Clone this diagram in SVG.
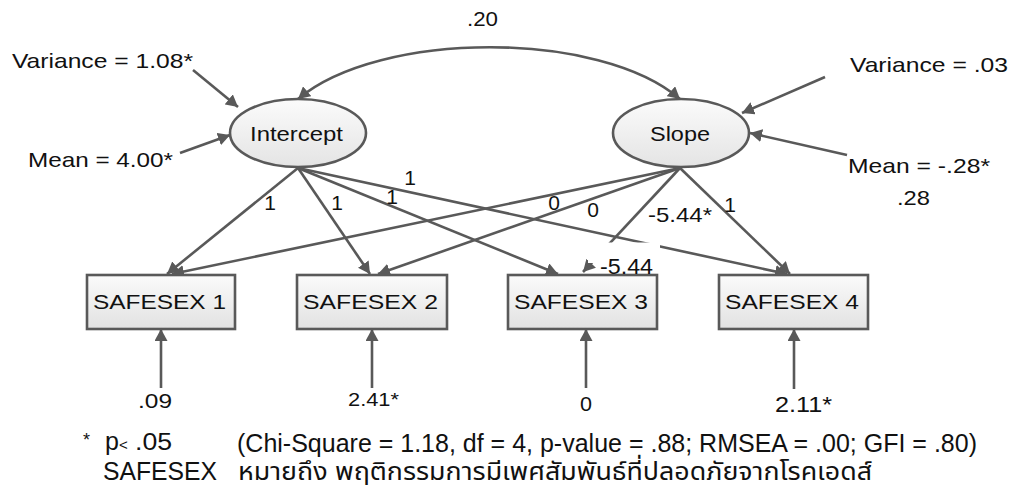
<svg xmlns="http://www.w3.org/2000/svg" width="1013" height="490" viewBox="0 0 1013 490">
<defs>
<linearGradient id="gE" x1="0" y1="0" x2="0" y2="1"><stop offset="0" stop-color="#fbfbfb"/><stop offset="1" stop-color="#e4e4e4"/></linearGradient>
<linearGradient id="gB" x1="0" y1="0" x2="0" y2="1"><stop offset="0" stop-color="#fbfbfb"/><stop offset="1" stop-color="#e2e2e2"/></linearGradient>
<marker id="ah" viewBox="0 0 12 13" refX="12" refY="6.5" markerWidth="12" markerHeight="13" markerUnits="userSpaceOnUse" orient="auto-start-reverse"><path d="M0,0 L12,6.5 L0,13 z" fill="#595959"/></marker>
<style>
.ln{stroke:#595959;stroke-width:2.6;fill:none;marker-end:url(#ah)}
.sh{stroke:#595959;stroke-width:2.6}
text{font-family:"Liberation Sans",Arial,sans-serif;fill:#111}
.t21{font-size:21px}
.mid{text-anchor:middle}
.ft{font-size:25px}
</style>
</defs>
<rect width="1013" height="490" fill="#fff"/>
<g id="connectors">
<path class="ln" d="M298,99 C380,30 600,30 680,99" marker-start="url(#ah)"/>
<line class="ln" x1="298" y1="168" x2="167" y2="274"/>
<line class="ln" x1="298" y1="168" x2="370" y2="274"/>
<line class="ln" x1="298" y1="168" x2="558" y2="274"/>
<line class="ln" x1="298" y1="168" x2="787" y2="274"/>
<line class="ln" x1="680" y1="168" x2="172" y2="274"/>
<line class="ln" x1="680" y1="168" x2="378" y2="274"/>
<line class="ln" x1="680" y1="168" x2="583" y2="272"/>
<line class="ln" x1="680" y1="168" x2="790" y2="274"/>
<line class="ln" x1="193" y1="70" x2="238" y2="107"/>
<line class="ln" x1="180" y1="153" x2="230" y2="135"/>
<line class="ln" x1="825" y1="77" x2="742" y2="113"/>
<line class="ln" x1="847" y1="155" x2="750" y2="133"/>
<line class="ln" x1="161" y1="388" x2="161" y2="329"/>
<line class="ln" x1="372" y1="388" x2="372" y2="329"/>
<line class="ln" x1="586" y1="388" x2="586" y2="329"/>
<line class="ln" x1="794" y1="389" x2="794" y2="329"/>
<rect x="588" y="242.5" width="72" height="20.5" fill="#fff"/>
</g>
<g id="intercept">
<ellipse class="sh" cx="298" cy="133" rx="68" ry="34" fill="url(#gE)"/>
<text class="t21" x="250" y="141" textLength="93" lengthAdjust="spacingAndGlyphs">Intercept</text>
</g>
<g id="slope">
<ellipse class="sh" cx="681" cy="133" rx="68" ry="34" fill="url(#gE)"/>
<text class="t21" x="650" y="141" textLength="60" lengthAdjust="spacingAndGlyphs">Slope</text>
</g>
<g id="safesex1">
<rect class="sh" x="87" y="275" width="148" height="54" fill="url(#gB)"/>
<text class="t21" x="93" y="309" textLength="133" lengthAdjust="spacingAndGlyphs">SAFESEX 1</text>
</g>
<g id="safesex2">
<rect class="sh" x="297" y="275" width="150" height="54" fill="url(#gB)"/>
<text class="t21" x="303" y="309" textLength="135" lengthAdjust="spacingAndGlyphs">SAFESEX 2</text>
</g>
<g id="safesex3">
<rect class="sh" x="508" y="275" width="149" height="54" fill="url(#gB)"/>
<text class="t21" x="514" y="309" textLength="134" lengthAdjust="spacingAndGlyphs">SAFESEX 3</text>
</g>
<g id="safesex4">
<rect class="sh" x="719" y="275" width="149" height="54" fill="url(#gB)"/>
<text class="t21" x="725" y="309" textLength="134" lengthAdjust="spacingAndGlyphs">SAFESEX 4</text>
</g>
<g id="labels">
<text class="t21" x="467" y="26" textLength="31" lengthAdjust="spacingAndGlyphs">.20</text>
<text class="t21" x="12" y="68" textLength="181" lengthAdjust="spacingAndGlyphs">Variance = 1.08*</text>
<text class="t21" x="28" y="167" textLength="145" lengthAdjust="spacingAndGlyphs">Mean = 4.00*</text>
<text class="t21" x="850" y="72" textLength="158" lengthAdjust="spacingAndGlyphs">Variance = .03</text>
<text class="t21" x="848" y="173" textLength="142" lengthAdjust="spacingAndGlyphs">Mean = -.28*</text>
<text class="t21" x="897" y="205" textLength="33" lengthAdjust="spacingAndGlyphs">.28</text>
<text class="t21 mid" x="270" y="210">1</text>
<text class="t21 mid" x="337" y="210">1</text>
<text class="t21 mid" x="392" y="204">1</text>
<text class="t21 mid" x="410" y="185">1</text>
<text class="t21 mid" x="554" y="210">0</text>
<text class="t21 mid" x="593" y="217">0</text>
<text class="t21 mid" x="730" y="212">1</text>
<text class="t21" x="648" y="222" textLength="64" lengthAdjust="spacingAndGlyphs">-5.44*</text>
<text x="600" y="274" font-size="22" textLength="53" lengthAdjust="spacingAndGlyphs">-5.44</text>
<text class="t21" x="138" y="408" textLength="34" lengthAdjust="spacingAndGlyphs">.09</text>
<text x="348" y="406" font-size="18" textLength="51" lengthAdjust="spacingAndGlyphs">2.41*</text>
<text class="t21" x="580" y="411" textLength="12" lengthAdjust="spacingAndGlyphs">0</text>
<text x="775" y="412" font-size="22" textLength="57" lengthAdjust="spacingAndGlyphs">2.11*</text>
</g>
<g id="footer">
<text x="83" y="446" font-size="18">*</text>
<text class="ft" x="105" y="450">p<tspan font-size="15">&lt;</tspan></text>
<text x="135" y="450" font-size="23" textLength="37" lengthAdjust="spacingAndGlyphs">.05</text>
<text class="ft" x="237" y="452" textLength="740" lengthAdjust="spacingAndGlyphs">(Chi-Square = 1.18, df = 4, p-value = .88; RMSEA = .00; GFI = .80)</text>
<text class="ft" x="103" y="480" textLength="114" lengthAdjust="spacingAndGlyphs">SAFESEX</text>
<text x="238" y="480" font-size="25" style="font-family:'Liberation Sans','Noto Sans Thai','Noto Sans',sans-serif" textLength="634" lengthAdjust="spacingAndGlyphs">หมายถึง พฤติกรรมการมีเพศสัมพันธ์ที่ปลอดภัยจากโรคเอดส์</text>
</g>
</svg>
